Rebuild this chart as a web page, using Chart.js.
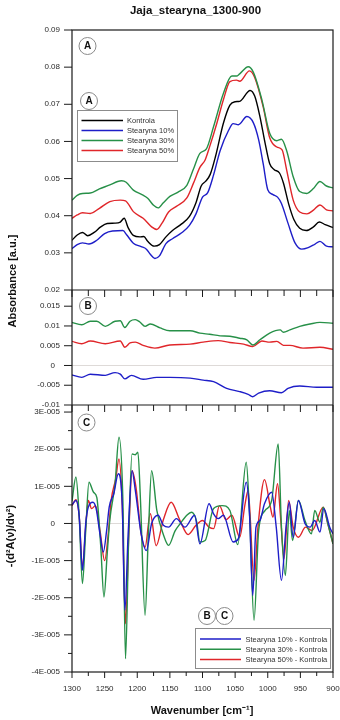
<!DOCTYPE html>
<html>
<head>
<meta charset="utf-8">
<script src="https://cdn.jsdelivr.net/npm/chart.js@4.4.1/dist/chart.umd.min.js"></script>
<style>
  html, body { margin: 0; padding: 0; background: #ffffff; }
  canvas { display: block; }
</style>
</head>
<body>
<canvas id="chart" width="340" height="720"></canvas>
<script>
// ---- Absorbance spectra, [wavenumber cm-1, absorbance a.u.] ----
const kontrolaAbs = [
  [1300,0.0334],[1292,0.0348],[1284,0.0355],[1276,0.0346],[1266,0.0355],[1256,0.0370],[1246,0.0379],
  [1234,0.0380],[1226,0.0383],[1220,0.0393],[1214,0.0368],[1206,0.0347],[1196,0.0343],[1190,0.0344],
  [1184,0.0331],[1174,0.0318],[1166,0.0322],[1156,0.0343],[1146,0.0360],[1132,0.0378],[1120,0.0398],
  [1110,0.0435],[1102,0.0480],[1095,0.0493],[1088,0.0512],[1080,0.0560],[1068,0.0649],[1058,0.0698],
  [1050,0.0707],[1043,0.0708],[1027,0.0737],[1020,0.0722],[1012,0.0667],[1004,0.0595],[997,0.0540],
  [990,0.0524],[982,0.0515],[976,0.0488],[968,0.0432],[960,0.0390],[951,0.0366],[941,0.0360],
  [930,0.0370],[921,0.0383],[912,0.0376],[900,0.0368]
];
const stearyna10Abs = [
  [1300,0.0311],[1292,0.0322],[1284,0.0327],[1274,0.0324],[1262,0.0334],[1250,0.0352],[1238,0.0359],
  [1222,0.0360],[1216,0.0348],[1206,0.0326],[1194,0.0317],[1186,0.0310],[1180,0.0296],[1173,0.0285],
  [1166,0.0292],[1156,0.0325],[1146,0.0338],[1132,0.0354],[1120,0.0374],[1110,0.0405],[1100,0.0450],
  [1092,0.0462],[1083,0.0510],[1073,0.0575],[1060,0.0630],[1053,0.0648],[1045,0.0645],[1032,0.0667],
  [1022,0.0650],[1014,0.0605],[1007,0.0540],[1000,0.0470],[992,0.0457],[985,0.0450],[979,0.0433],
  [969,0.0380],[958,0.0326],[948,0.0310],[938,0.0314],[928,0.0323],[920,0.0331],[910,0.0318],[900,0.0316]
];
const stearyna30Abs = [
  [1300,0.0442],[1292,0.0455],[1284,0.0460],[1272,0.0461],[1258,0.0472],[1242,0.0483],[1230,0.0492],
  [1224,0.0494],[1217,0.0490],[1206,0.0469],[1192,0.0456],[1184,0.0447],[1175,0.0428],[1168,0.0421],
  [1160,0.0435],[1150,0.0452],[1138,0.0463],[1124,0.0482],[1114,0.0525],[1104,0.0568],[1094,0.0580],
  [1083,0.0640],[1068,0.0729],[1055,0.0776],[1048,0.0776],[1043,0.0782],[1030,0.0801],[1022,0.0786],
  [1009,0.0712],[997,0.0622],[986,0.0602],[979,0.0606],[971,0.0575],[961,0.0505],[951,0.0465],
  [940,0.0460],[930,0.0473],[920,0.0492],[910,0.0480],[900,0.0475]
];
const stearyna50Abs = [
  [1300,0.0393],[1292,0.0402],[1284,0.0408],[1272,0.0406],[1258,0.0420],[1242,0.0438],[1226,0.0442],
  [1218,0.0440],[1206,0.0411],[1191,0.0393],[1178,0.0370],[1170,0.0363],[1162,0.0380],[1152,0.0410],
  [1140,0.0425],[1124,0.0448],[1114,0.0487],[1104,0.0530],[1096,0.0550],[1089,0.0586],[1078,0.0649],
  [1068,0.0712],[1058,0.0761],[1048,0.0765],[1043,0.0762],[1028,0.0790],[1020,0.0772],[1007,0.0693],
  [997,0.0610],[986,0.0585],[978,0.0577],[971,0.0523],[961,0.0442],[951,0.0410],[940,0.0405],
  [930,0.0415],[920,0.0429],[910,0.0416],[900,0.0413]
];

// ---- Difference spectra (sample - Kontrola) ----
const diff10Abs = [
  [1300,-0.0024],[1285,-0.0030],[1272,-0.0022],[1249,-0.0025],[1234,-0.0018],[1226,-0.0022],[1219,-0.0034],
  [1209,-0.0025],[1191,-0.0035],[1170,-0.0030],[1150,-0.0030],[1119,-0.0032],[1099,-0.0037],[1083,-0.0041],
  [1063,-0.0058],[1043,-0.0066],[1030,-0.0073],[1023,-0.0079],[1014,-0.0070],[997,-0.0064],[979,-0.0069],
  [969,-0.0058],[951,-0.0052],[925,-0.0055],[900,-0.0055]
];
const diff30Abs = [
  [1300,0.0109],[1285,0.0103],[1272,0.0112],[1262,0.0112],[1249,0.0099],[1234,0.0112],[1226,0.0113],
  [1219,0.0096],[1211,0.0112],[1203,0.0116],[1196,0.0110],[1188,0.0099],[1180,0.0105],[1165,0.0095],
  [1150,0.0088],[1119,0.0088],[1104,0.0082],[1089,0.0079],[1073,0.0075],[1058,0.0074],[1043,0.0069],
  [1032,0.0065],[1023,0.0052],[1012,0.0065],[997,0.0082],[981,0.0090],[976,0.0084],[966,0.0090],
  [951,0.0099],[935,0.0105],[920,0.0109],[900,0.0107]
];
const diff50Abs = [
  [1300,0.0061],[1285,0.0055],[1272,0.0062],[1249,0.0055],[1226,0.0062],[1219,0.0046],[1211,0.0057],
  [1203,0.0059],[1191,0.0051],[1173,0.0044],[1150,0.0052],[1119,0.0054],[1099,0.0059],[1076,0.0063],
  [1058,0.0058],[1037,0.0054],[1023,0.0048],[1009,0.0062],[997,0.0059],[986,0.0061],[976,0.0051],
  [966,0.0051],[946,0.0044],[920,0.0046],[900,0.0041]
];

// ---- Second-derivative differences, in units of 1E-005 ----
const deriv10 = [
  [1300,0.50],[1294,0.62],[1289,0.20],[1284,-1.26],[1279,0.00],[1275,0.44],[1268,0.57],[1263,0.40],
  [1257,-0.30],[1252,-0.77],[1247,-0.20],[1243,0.44],[1236,0.80],[1229,1.34],[1223,0.50],[1219,-2.34],
  [1214,-0.30],[1208,1.42],[1203,0.90],[1194,-0.28],[1186,-0.73],[1178,0.00],[1168,0.22],[1160,-0.05],
  [1152,-0.10],[1140,0.13],[1127,-0.10],[1112,0.22],[1104,-0.55],[1090,0.53],[1083,0.26],[1076,0.13],
  [1068,0.22],[1053,-0.50],[1045,-0.41],[1033,1.11],[1028,0.26],[1023,-1.94],[1018,-0.10],[1012,0.08],
  [1005,0.53],[994,0.84],[987,-0.10],[979,-1.53],[972,-0.10],[967,0.57],[961,-0.37],[953,0.62],
  [943,0.00],[935,-0.10],[928,0.08],[920,-0.23],[914,0.40],[905,-0.10],[900,-0.28]
];
const deriv30 = [
  [1300,0.60],[1294,1.25],[1289,0.20],[1284,-1.62],[1279,-0.20],[1274,1.11],[1267,0.84],[1262,0.70],
  [1256,-0.60],[1251,-1.98],[1246,-0.80],[1242,0.10],[1234,1.07],[1228,2.32],[1222,0.60],[1218,-3.64],
  [1213,-0.30],[1208,1.87],[1203,1.85],[1199,1.92],[1195,0.60],[1188,-2.47],[1183,-0.30],[1178,1.42],
  [1170,0.35],[1160,-0.30],[1152,-0.59],[1142,-0.20],[1134,0.00],[1124,0.22],[1117,0.30],[1109,0.05],
  [1104,-0.50],[1096,-0.46],[1083,0.40],[1070,0.48],[1058,0.35],[1046,-0.57],[1033,1.65],[1028,0.30],
  [1021,-2.61],[1014,-0.20],[1004,0.35],[994,0.62],[984,2.14],[979,-0.10],[973,-1.40],[967,0.35],
  [962,-0.46],[953,0.62],[943,0.08],[933,-0.28],[928,0.35],[920,0.03],[915,0.44],[908,0.00],[900,-0.55]
];
const deriv50 = [
  [1300,0.48],[1294,0.64],[1289,0.20],[1284,-1.17],[1279,-0.10],[1275,0.62],[1270,0.40],[1264,0.48],
  [1257,-0.20],[1250,-1.00],[1244,-0.20],[1240,0.62],[1233,1.20],[1228,1.74],[1223,0.50],[1218,-2.70],
  [1213,-0.30],[1208,1.42],[1202,0.98],[1194,-0.28],[1188,-0.64],[1180,0.26],[1171,-0.60],[1160,0.10],
  [1148,0.57],[1135,0.10],[1122,-0.30],[1110,-0.05],[1100,0.08],[1090,-0.10],[1083,-0.14],[1074,0.48],
  [1064,0.10],[1055,0.22],[1043,-0.37],[1035,0.50],[1030,0.89],[1021,-1.53],[1015,-0.10],[1005,1.18],
  [996,0.44],[992,0.17],[985,1.07],[980,0.08],[975,-0.95],[968,0.62],[961,-0.10],[953,-0.37],
  [942,-0.10],[932,-0.19],[915,0.44],[908,0.00],[900,-0.55]
];

// ---- Tick values and labels ----
const wavenumberTicks = [1300,1250,1200,1150,1100,1050,1000,950,900];
const absTicks = [0.02,0.03,0.04,0.05,0.06,0.07,0.08,0.09];
const absTickLabels = ['0.02','0.03','0.04','0.05','0.06','0.07','0.08','0.09'];
const diffTicks = [-0.01,-0.005,0,0.005,0.01,0.015];
const diffTickLabels = ['-0.01','-0.005','0','0.005','0.01','0.015'];
const derivTicks = [-4,-3,-2,-1,0,1,2,3];
const derivTickLabels = ['-4E-005','-3E-005','-2E-005','-1E-005','0','1E-005','2E-005','3E-005'];

const COLORS = { kontrola:'#000000', s10:'#1e1ec8', s30:'#279048', s50:'#e0262a' };
const FONT = '"Liberation Sans", Arial, sans-serif';

// Panel pixel spans inside the plot area and the value range each one shows
const PLOT = { left:72, right:333, top:30, bottom:672 };
const PANELS = {
  yA: { top:30,  bottom:290, vTop:0.09,   vBottom:0.02 },
  yB: { top:290, bottom:405, vTop:0.0191, vBottom:-0.01 },
  yC: { top:405, bottom:672, vTop:3.19,   vBottom:-4.0 }
};
function axisRange(p) {
  const k = (p.vTop - p.vBottom) / (p.bottom - p.top);
  return { min: p.vBottom - (PLOT.bottom - p.bottom) * k, max: p.vTop + (p.top - PLOT.top) * k };
}

const pts = arr => arr.map(([x, y]) => ({ x, y }));
function series(label, data, color, axis) {
  return {
    label, data: pts(data), yAxisID: axis, borderColor: color, backgroundColor: color,
    borderWidth: 1.4, pointRadius: 0, fill: false, cubicInterpolationMode: 'monotone'
  };
}

const datasets = [
  series('Kontrola', kontrolaAbs, COLORS.kontrola, 'yA'),
  series('Stearyna 10%', stearyna10Abs, COLORS.s10, 'yA'),
  series('Stearyna 30%', stearyna30Abs, COLORS.s30, 'yA'),
  series('Stearyna 50%', stearyna50Abs, COLORS.s50, 'yA'),
  series('Stearyna 10% - Kontrola', diff10Abs, COLORS.s10, 'yB'),
  series('Stearyna 30% - Kontrola', diff30Abs, COLORS.s30, 'yB'),
  series('Stearyna 50% - Kontrola', diff50Abs, COLORS.s50, 'yB'),
  series('Stearyna 10% - Kontrola', deriv10, COLORS.s10, 'yC'),
  series('Stearyna 30% - Kontrola', deriv30, COLORS.s30, 'yC'),
  series('Stearyna 50% - Kontrola', deriv50, COLORS.s50, 'yC')
];

function circleLabel(ctx, x, y, letter) {
  ctx.beginPath();
  ctx.arc(x, y, 8.5, 0, Math.PI * 2);
  ctx.fillStyle = '#ffffff';
  ctx.fill();
  ctx.lineWidth = 1;
  ctx.strokeStyle = '#8a8a8a';
  ctx.stroke();
  ctx.fillStyle = '#111111';
  ctx.font = 'bold 10px ' + FONT;
  ctx.textAlign = 'center';
  ctx.textBaseline = 'middle';
  ctx.fillText(letter, x, y + 0.5);
}

function legendBox(ctx, box, items) {
  ctx.fillStyle = '#ffffff';
  ctx.fillRect(box.x, box.y, box.w, box.h);
  ctx.strokeStyle = '#8c8c8c';
  ctx.lineWidth = 1;
  ctx.strokeRect(box.x + 0.5, box.y + 0.5, box.w, box.h);
  ctx.font = '7.5px ' + FONT;
  ctx.textAlign = 'left';
  ctx.textBaseline = 'middle';
  items.forEach((ds, i) => {
    const y = box.y + box.rowTop + i * box.rowGap;
    ctx.strokeStyle = ds.borderColor;
    ctx.lineWidth = 1.5;
    ctx.beginPath();
    ctx.moveTo(box.x + box.lineFrom, y);
    ctx.lineTo(box.x + box.lineTo, y);
    ctx.stroke();
    ctx.fillStyle = '#333333';
    ctx.fillText(ds.label, box.x + box.textX, y + 0.5);
  });
}

const axesPlugin = {
  id: 'panelAxes',
  beforeDatasetsDraw(chart) {
    const ctx = chart.ctx, xs = chart.scales.x;
    ctx.save();
    ctx.strokeStyle = '#dedad8';
    ctx.lineWidth = 1;
    ['yB', 'yC'].forEach(id => {
      const y = Math.round(chart.scales[id].getPixelForValue(0)) + 0.5;
      ctx.beginPath(); ctx.moveTo(xs.left, y); ctx.lineTo(xs.right, y); ctx.stroke();
    });
    ctx.restore();
  },
  afterDraw(chart) {
    const ctx = chart.ctx, xs = chart.scales.x;
    const yA = chart.scales.yA, yB = chart.scales.yB, yC = chart.scales.yC;
    const L = xs.left, R = xs.right;
    const T = yA.getPixelForValue(0.09), Bt = yC.getPixelForValue(-4);
    const divAB = yA.getPixelForValue(0.02), divBC = yB.getPixelForValue(-0.01);
    ctx.save();
    ctx.strokeStyle = '#1a1a1a';
    ctx.lineWidth = 1.2;
    ctx.strokeRect(L, T, R - L, Bt - T);
    [divAB, divBC].forEach(y => { ctx.beginPath(); ctx.moveTo(L, y); ctx.lineTo(R, y); ctx.stroke(); });

    // y ticks and labels; a lone "0" sits a little left of the other labels
    ctx.font = '8px ' + FONT;
    ctx.fillStyle = '#2a2a2a';
    ctx.textAlign = 'right';
    ctx.textBaseline = 'middle';
    ctx.lineWidth = 1;
    const yTicks = (scale, values, labels, minor) => {
      values.forEach((v, i) => {
        const y = scale.getPixelForValue(v);
        ctx.beginPath(); ctx.moveTo(L - 8, y); ctx.lineTo(L, y); ctx.stroke();
        ctx.fillText(labels[i], labels[i] === '0' ? L - 17 : L - 12, y);
        if (minor && i < values.length - 1) {
          const ym = scale.getPixelForValue((v + values[i + 1]) / 2);
          ctx.beginPath(); ctx.moveTo(L - 4, ym); ctx.lineTo(L, ym); ctx.stroke();
        }
      });
    };
    yTicks(yA, absTicks, absTickLabels, false);
    yTicks(yB, diffTicks, diffTickLabels, false);
    yTicks(yC, derivTicks, derivTickLabels, true);

    // x ticks: outward at the bottom, inward on top of panels B and C
    ctx.textAlign = 'center';
    ctx.textBaseline = 'middle';
    wavenumberTicks.forEach((w, i) => {
      const x = xs.getPixelForValue(w);
      ctx.beginPath(); ctx.moveTo(x, Bt); ctx.lineTo(x, Bt + 6); ctx.stroke();
      ctx.fillText(String(w), x, Bt + 17);
      [divAB, divBC].forEach(y => { ctx.beginPath(); ctx.moveTo(x, y); ctx.lineTo(x, y + 7); ctx.stroke(); });
      if (i < wavenumberTicks.length - 1) {
        const xm = xs.getPixelForValue((w + wavenumberTicks[i + 1]) / 2);
        ctx.beginPath(); ctx.moveTo(xm, Bt); ctx.lineTo(xm, Bt + 4); ctx.stroke();
        [divAB, divBC].forEach(y => { ctx.beginPath(); ctx.moveTo(xm, y); ctx.lineTo(xm, y + 6); ctx.stroke(); });
      }
    });

    // titles
    ctx.fillStyle = '#111111';
    ctx.font = 'bold 11.5px ' + FONT;
    ctx.fillText('Jaja_stearyna_1300-900', 195.5, 10.5);
    ctx.font = 'bold 11px ' + FONT;
    ctx.fillText('Wavenumber [cm\u207B\u00B9]', 202, 711);
    ctx.save();
    ctx.translate(12.5, 281);
    ctx.rotate(-Math.PI / 2);
    ctx.fillText('Absorbance [a.u.]', 0, 0);
    ctx.restore();
    ctx.save();
    ctx.translate(11, 536);
    ctx.rotate(-Math.PI / 2);
    ctx.fillText('-(d\u00B2A(\u03BD)/d\u03BD\u00B2)', 0, 0);
    ctx.restore();

    // legends
    const ds = chart.data.datasets;
    legendBox(ctx, { x:77, y:110, w:100, h:51, rowTop:10.5, rowGap:10, lineFrom:4.5, lineTo:46, textX:50 }, ds.slice(0, 4));
    legendBox(ctx, { x:195, y:628, w:135, h:40, rowTop:11, rowGap:10.2, lineFrom:5, lineTo:46, textX:50.5 }, ds.slice(7, 10));

    // panel markers
    circleLabel(ctx, 87.5, 46, 'A');
    circleLabel(ctx, 89, 101, 'A');
    circleLabel(ctx, 88, 306, 'B');
    circleLabel(ctx, 86.5, 422.5, 'C');
    circleLabel(ctx, 207, 616, 'B');
    circleLabel(ctx, 224.5, 616, 'C');
    ctx.restore();
  }
};

const rA = axisRange(PANELS.yA), rB = axisRange(PANELS.yB), rC = axisRange(PANELS.yC);

new Chart(document.getElementById('chart'), {
  type: 'line',
  data: { datasets },
  options: {
    responsive: false,
    animation: false,
    devicePixelRatio: 1,
    layout: { padding: { left: PLOT.left, right: 340 - PLOT.right, top: PLOT.top, bottom: 720 - PLOT.bottom } },
    plugins: { legend: { display: false }, tooltip: { enabled: false }, title: { display: false } },
    scales: {
      x: { type: 'linear', min: 900, max: 1300, reverse: true, display: false },
      yA: { type: 'linear', min: rA.min, max: rA.max, display: false },
      yB: { type: 'linear', min: rB.min, max: rB.max, display: false },
      yC: { type: 'linear', min: rC.min, max: rC.max, display: false }
    }
  },
  plugins: [axesPlugin]
});
</script>
</body>
</html>
